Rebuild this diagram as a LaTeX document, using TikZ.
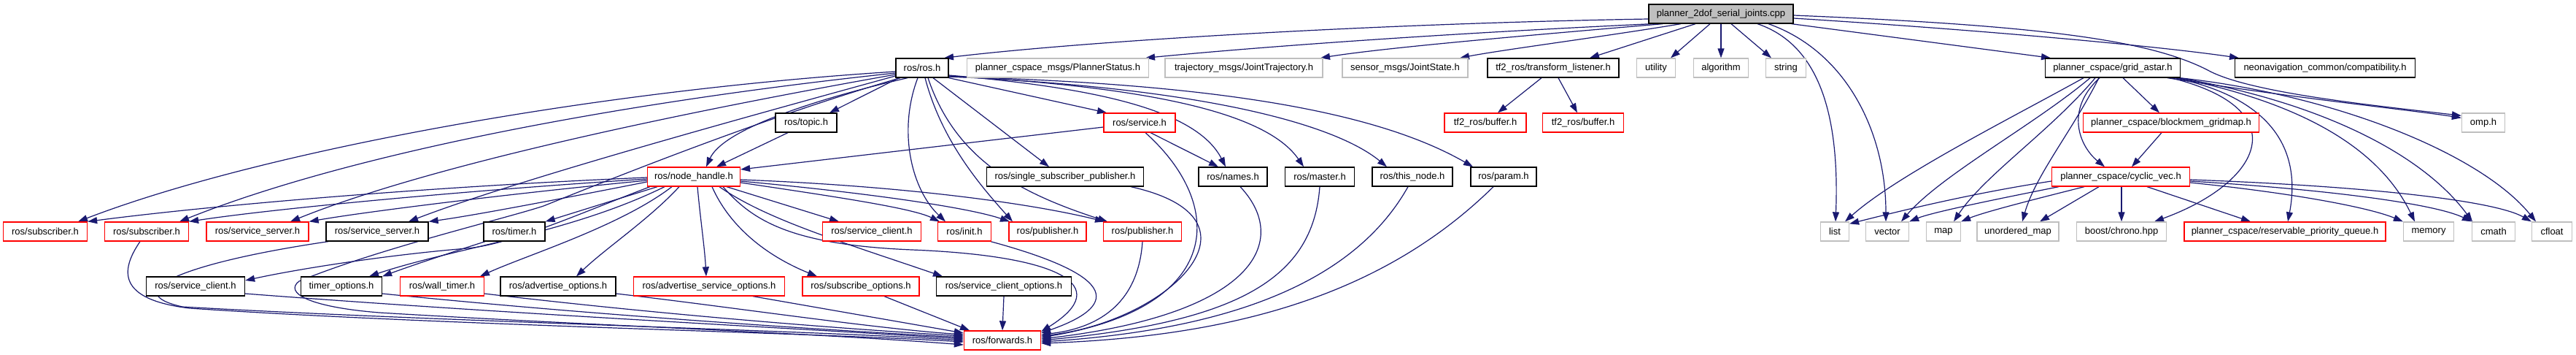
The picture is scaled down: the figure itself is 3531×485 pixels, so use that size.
\documentclass[tikz,border=0pt]{standalone}
\usepackage{fontspec}
\setmainfont{Liberation Sans}
\usetikzlibrary{arrows.meta}
\pgfdeclarelayer{bglayer}
\pgfdeclarelayer{edgelayer}
\pgfsetlayers{bglayer,edgelayer,main}
\definecolor{edgec}{HTML}{191970}
\definecolor{greyc}{HTML}{BFBFBF}
\definecolor{redc}{HTML}{FF0000}
\begin{document}
\begin{tikzpicture}[x=1pt,y=-1pt,
 box/.style={draw, fill=white, rectangle, minimum height=26pt, inner sep=0pt, font=\fontsize{13}{15}\selectfont, line width=1.3pt},
 blk/.style={box, draw=black},
 rd/.style={box, draw=redc},
 gr/.style={box, draw=greyc},
 wd/.style={minimum width=#1pt},
 inc/.style={draw=edgec, line width=1.2pt, -{Triangle[length=13pt,width=9pt]}},
]
\begin{pgfonlayer}{bglayer}
\fill[white] (0,0) rectangle (3531,485);
\end{pgfonlayer}
\useasboundingbox (0,0) rectangle (3531,485);
% row 1
\node[blk,fill=greyc,wd=198] (root) at (2359,19) {planner\_2dof\_serial\_joints.cpp};
% row 2
\node[blk,wd=72] (ros) at (1264,93) {ros/ros.h};
\node[gr,wd=249] (pstat) at (1450,93) {planner\_cspace\_msgs/PlannerStatus.h};
\node[gr,wd=216] (jtraj) at (1705,93) {trajectory\_msgs/JointTrajectory.h};
\node[gr,wd=172] (jstate) at (1926,93) {sensor\_msgs/JointState.h};
\node[blk,wd=180] (tfl) at (2129,93) {tf2\_ros/transform\_listener.h};
\node[gr,wd=53] (util) at (2270,93) {utility};
\node[gr,wd=75] (algo) at (2359,93) {algorithm};
\node[gr,wd=55] (str) at (2448,93) {string};
\node[blk,wd=185] (gastar) at (2896,93) {planner\_cspace/grid\_astar.h};
\node[blk,wd=247] (neo) at (3187,93) {neonavigation\_common/compatibility.h};
% row 3
\node[blk,wd=84] (topic) at (1105,168) {ros/topic.h};
\node[rd,wd=98] (service) at (1562,168) {ros/service.h};
\node[rd,wd=112] (buf1) at (2036,168) {tf2\_ros/buffer.h};
\node[rd,wd=111] (buf2) at (2170,168) {tf2\_ros/buffer.h};
\node[rd,wd=241] (block) at (2976,168) {planner\_cspace/blockmem\_gridmap.h};
\node[gr,wd=59] (omp) at (3404,168) {omp.h};
% row 4
\node[rd,wd=127] (nh) at (951,242) {ros/node\_handle.h};
\node[blk,wd=215] (ssp) at (1460,242) {ros/single\_subscriber\_publisher.h};
\node[blk,wd=94] (names) at (1690,242) {ros/names.h};
\node[blk,wd=95] (master) at (1809,242) {ros/master.h};
\node[blk,wd=110] (thisnode) at (1936,242) {ros/this\_node.h};
\node[blk,wd=90] (param) at (2061,242) {ros/param.h};
\node[rd,wd=189] (cvec) at (2907,242) {planner\_cspace/cyclic\_vec.h};
% row 5
\node[rd,wd=115] (sub1) at (62,317) {ros/subscriber.h};
\node[rd,wd=115] (sub2) at (201,317) {ros/subscriber.h};
\node[rd,wd=140] (ss1) at (353,317) {ros/service\_server.h};
\node[blk,wd=140] (ss2) at (517,317) {ros/service\_server.h};
\node[blk,wd=84] (timer) at (705,317) {ros/timer.h};
\node[rd,wd=135] (sc1) at (1195,317) {ros/service\_client.h};
\node[rd,wd=73] (init) at (1322,317) {ros/init.h};
\node[rd,wd=106] (pub1) at (1436,317) {ros/publisher.h};
\node[rd,wd=107] (pub2) at (1566,317) {ros/publisher.h};
\node[gr,wd=39] (list) at (2515,317) {list};
\node[gr,wd=59] (vector) at (2587,317) {vector};
\node[gr,wd=47] (map) at (2664,317) {map};
\node[gr,wd=112] (umap) at (2766,317) {unordered\_map};
\node[gr,wd=123] (chrono) at (2908,317) {boost/chrono.hpp};
\node[rd,wd=276] (rpq) at (3132,317) {planner\_cspace/reservable\_priority\_queue.h};
\node[gr,wd=69] (memory) at (3329,317) {memory};
\node[gr,wd=59] (cmath) at (3418,317) {cmath};
\node[gr,wd=55] (cfloat) at (3498,317) {cfloat};
% row 6
\node[blk,wd=135] (sc2) at (268,392) {ros/service\_client.h};
\node[blk,wd=111] (topt) at (468,392) {timer\_options.h};
\node[rd,wd=115] (wt) at (606,392) {ros/wall\_timer.h};
\node[blk,wd=158] (aopt) at (765,392) {ros/advertise\_options.h};
\node[rd,wd=207] (asopt) at (972,392) {ros/advertise\_service\_options.h};
\node[rd,wd=160] (subopt) at (1180,392) {ros/subscribe\_options.h};
\node[blk,wd=185] (scopt) at (1376,392) {ros/service\_client\_options.h};
% row 7
\node[rd,wd=105] (fwd) at (1374,466) {ros/forwards.h};

\begin{pgfonlayer}{edgelayer}
% ---- edges from root
\draw[inc] ([yshift=-7pt]root.west) .. controls (1900,32) and (1500,55) .. ([xshift=30pt]ros.north);
\draw[inc] ([xshift=-95pt]root.south) .. controls (2000,45) and (1750,62) .. ([xshift=120pt]pstat.north);
\draw[inc] ([xshift=-80pt]root.south) .. controls (2100,48) and (1900,65) .. ([xshift=105pt]jtraj.north);
\draw[inc] ([xshift=-55pt]root.south) .. controls (2200,50) and (2060,68) .. ([xshift=75pt]jstate.north);
\draw[inc] ([xshift=-35pt]root.south) -- ([xshift=50pt]tfl.north);
\draw[inc] ([xshift=-15pt]root.south) -- ([xshift=20pt]util.north);
\draw[inc] (root.south) -- (algo.north);
\draw[inc] ([xshift=14pt]root.south) -- ([xshift=-20pt]str.north);
\draw[inc] ([xshift=-3pt]root.south east) -- ([xshift=-85pt]gastar.north);
\draw[inc] ([yshift=-6pt]root.east) .. controls (2700,40) and (2950,62) .. ([xshift=-118pt]neo.north);
\draw[inc] ([yshift=-2pt]root.east) .. controls (2800,35) and (2950,55) .. (3030,98) .. controls (3090,128) and (3260,145) .. ([yshift=-4pt]omp.north west);
\draw[inc] ([xshift=50pt]root.south) .. controls (2490,60) and (2522,150) .. ([xshift=1pt]list.north);
\draw[inc] ([xshift=65pt]root.south) .. controls (2530,70) and (2585,180) .. ([xshift=-2pt]vector.north);

% ---- edges from ros.h
\draw[inc] ([yshift=-5pt]ros.west) .. controls (800,125) and (350,210) .. ([xshift=45pt]sub1.north);
\draw[inc] ([yshift=-7pt]ros.west) .. controls (850,140) and (480,210) .. ([xshift=45pt]sub2.north);
\draw[inc] ([yshift=-9pt]ros.west) .. controls (900,160) and (580,230) .. ([xshift=45pt]ss1.north);
\draw[inc] ([yshift=-11pt]ros.west) .. controls (950,180) and (700,250) .. ([xshift=43pt]ss2.north);
\draw[inc] ([xshift=-32pt]ros.south) -- ([xshift=32pt]topic.north);
\draw[inc] ([xshift=-20pt]ros.south) .. controls (1100,140) and (990,180) .. ([xshift=17pt]nh.north);
\draw[inc] (ros.south east) -- ([xshift=-45pt]service.north);
\draw[inc] ([xshift=15pt]ros.south) -- ([xshift=-22pt]ssp.north);
\draw[inc] ([yshift=-10pt]ros.east) .. controls (1500,120) and (1640,150) .. ([xshift=-10pt]names.north);
\draw[inc] ([yshift=-11pt]ros.east) .. controls (1600,120) and (1740,160) .. ([xshift=-22pt]master.north);
\draw[inc] ([yshift=-12pt]ros.east) .. controls (1650,120) and (1830,170) .. ([xshift=-35pt]thisnode.north);
\draw[inc] ([yshift=-12pt]ros.east) .. controls (1700,115) and (1900,160) .. ([xshift=-42pt]param.north);
\draw[inc] ([xshift=-6pt]ros.south) .. controls (1230,180) and (1250,260) .. ([xshift=-26pt]init.north);
\draw[inc] ([xshift=4pt]ros.south) .. controls (1290,190) and (1340,250) .. ([xshift=-48pt]pub1.north);
\draw[inc] ([xshift=8pt]ros.south) .. controls (1310,220) and (1400,265) .. ([xshift=-48pt]pub2.north);
\draw[inc] ([xshift=-30pt]ros.south) .. controls (1050,160) and (850,240) .. (745,282) .. controls (690,300) and (520,340) .. (410,385) .. controls (390,400) and (420,420) .. (520,428) .. controls (800,445) and (1100,455) .. ([yshift=-6pt]fwd.west);

% ---- other upper edges
\draw[inc] ([xshift=-25pt]topic.south) -- ([xshift=31pt]nh.north);
\draw[inc] ([yshift=-6pt]service.west) -- ([yshift=10pt]nh.east);
\draw[inc] ([xshift=15pt]service.south) -- ([xshift=-20pt]names.north);
\draw[inc] ([xshift=-16pt]tfl.south) -- ([xshift=17pt]buf1.north);
\draw[inc] ([xshift=7pt]tfl.south) -- ([xshift=-8pt]buf2.north);

% ---- edges from node_handle
\draw[inc] ([yshift=-1pt]nh.west) .. controls (600,255) and (300,280) .. (sub1.north east);
\draw[inc] ([yshift=-3pt]nh.west) .. controls (650,260) and (380,285) .. (sub2.north east);
\draw[inc] ([yshift=-5pt]nh.west) .. controls (700,265) and (500,290) .. (ss1.north east);
\draw[inc] ([yshift=-7pt]nh.west) .. controls (780,270) and (650,295) .. (ss2.north east);
\draw[inc] ([xshift=-50pt]nh.south) -- (timer.north east);
\draw[inc] ([xshift=45pt]nh.south) -- ([xshift=-45pt]sc1.north);
\draw[inc] ([yshift=-8pt]nh.east) .. controls (1150,270) and (1250,285) .. ([xshift=-34pt]init.north);
\draw[inc] ([yshift=-6pt]nh.east) .. controls (1200,265) and (1330,285) .. ([xshift=-52pt]pub1.north);
\draw[inc] ([yshift=-4pt]nh.east) .. controls (1250,255) and (1420,280) .. ([xshift=-52pt]pub2.north);
\draw[inc] ([xshift=-60pt]nh.south) .. controls (800,290) and (700,335) .. (640,340) .. controls (520,350) and (400,370) .. ([yshift=8pt]sc2.east);
\draw[inc] ([xshift=-40pt]nh.south) .. controls (780,320) and (620,340) .. ([xshift=38pt]topt.north);
\draw[inc] ([xshift=-30pt]nh.south) .. controls (850,310) and (720,350) .. ([xshift=52pt]wt.north);
\draw[inc] ([xshift=-20pt]nh.south) .. controls (890,300) and (830,340) .. ([xshift=25pt]aopt.north);
\draw[inc] ([xshift=5pt]nh.south) .. controls (960,300) and (966,340) .. ([xshift=-4pt]asopt.north);
\draw[inc] ([xshift=25pt]nh.south) .. controls (1000,310) and (1050,350) .. ([xshift=-60pt]subopt.north);
\draw[inc] ([xshift=35pt]nh.south) .. controls (1050,300) and (1150,330) .. ([xshift=-84pt]scopt.north);
\draw[inc] ([xshift=40pt]nh.south) .. controls (1030,300) and (1080,335) .. (1250,342) .. controls (1450,350) and (1530,390) .. ([yshift=12pt]fwd.east);
\draw[inc] ([xshift=-40pt]timer.south) .. controls (620,345) and (560,365) .. (topt.north east);

% ---- into forwards from the left
\draw[inc] ([xshift=-9pt]sub2.south) .. controls (165,370) and (160,410) .. (260,422) .. controls (600,445) and (1100,455) .. ([yshift=-2pt]fwd.west);
\draw[inc] ([xshift=-67pt]ss2.south) .. controls (250,360) and (160,400) .. (250,420) .. controls (600,440) and (1100,452) .. ([yshift=0pt]fwd.west);
\draw[inc] ([yshift=-10pt]sc2.east) .. controls (700,430) and (1100,450) .. ([yshift=2pt]fwd.west);
\draw[inc] ([yshift=-10pt]topt.east) .. controls (800,430) and (1100,450) .. ([yshift=4pt]fwd.west);
\draw[inc] ([yshift=-10pt]wt.east) .. controls (900,430) and (1150,450) .. ([yshift=6pt]fwd.west);
\draw[inc] ([yshift=-10pt]aopt.east) .. controls (1000,420) and (1200,450) .. ([yshift=8pt]fwd.west);
\draw[inc] ([xshift=60pt]asopt.south) -- ([yshift=10pt]fwd.west);
\draw[inc] ([xshift=32pt]subopt.south) -- ([xshift=-45pt]fwd.north);
\draw[inc] (scopt.south) -- (fwd.north);

% ---- into forwards from the right
\draw[inc] ([xshift=36pt]init.south) .. controls (1540,380) and (1530,420) .. ([yshift=10pt]fwd.east);
\draw[inc] (pub2.south) .. controls (1560,420) and (1500,450) .. ([yshift=8pt]fwd.east);
\draw[inc] ([xshift=90pt]ssp.south) .. controls (1750,300) and (1600,440) .. ([yshift=6pt]fwd.east);
\draw[inc] ([xshift=8pt]service.south) .. controls (1680,280) and (1680,420) .. ([yshift=4pt]fwd.east);
\draw[inc] ([xshift=10pt]names.south) .. controls (1770,330) and (1720,430) .. ([yshift=2pt]fwd.east);
\draw[inc] (master.south) .. controls (1800,380) and (1700,440) .. ([yshift=0pt]fwd.east);
\draw[inc] ([xshift=-6pt]thisnode.south) .. controls (1860,380) and (1700,450) .. ([yshift=-2pt]fwd.east);
\draw[inc] ([xshift=-14pt]param.south) .. controls (1900,400) and (1700,460) .. ([yshift=-4pt]fwd.east);

% ---- grid_astar
\draw[inc] ([xshift=14pt]gastar.south) -- ([xshift=-16pt]block.north);
\draw[inc] ([xshift=-18pt]gastar.south) .. controls (2830,150) and (2850,200) .. ([xshift=-22pt]cvec.north);
\draw[inc] ([xshift=-13pt]block.south) -- ([xshift=15pt]cvec.north);
\draw[inc] ([xshift=-40pt]gastar.south) .. controls (2760,160) and (2600,240) .. ([xshift=14pt]list.north);
\draw[inc] ([xshift=-31pt]gastar.south) .. controls (2790,170) and (2660,240) .. ([xshift=19pt]vector.north);
\draw[inc] ([xshift=-24pt]gastar.south) .. controls (2810,180) and (2720,240) .. ([xshift=14pt]map.north);
\draw[inc] ([xshift=-19pt]gastar.south) .. controls (2840,180) and (2790,240) .. ([xshift=6pt]umap.north);
\draw[inc] ([xshift=80pt]gastar.south) .. controls (3150,150) and (3100,250) .. ([xshift=45pt]chrono.north);
\draw[inc] ([xshift=85pt]gastar.south) .. controls (3140,140) and (3150,230) .. ([xshift=4pt]rpq.north);
\draw[inc] ([xshift=89pt]gastar.south) .. controls (3150,140) and (3260,200) .. ([xshift=-19pt]memory.north);
\draw[inc] ([xshift=91pt]gastar.south) .. controls (3180,140) and (3320,210) .. ([xshift=-29pt]cmath.north);
\draw[inc] ([xshift=92pt]gastar.south) .. controls (3200,130) and (3400,210) .. ([xshift=-22pt]cfloat.north);
\draw[inc] ([xshift=75pt]gastar.south) .. controls (3150,135) and (3300,150) .. ([yshift=-7pt]omp.north west);

% ---- cyclic_vec
\draw[inc] ([yshift=-6pt]cvec.west) .. controls (2700,265) and (2600,290) .. ([yshift=-3pt]list.north east);
\draw[inc] ([xshift=-85pt]cvec.south) .. controls (2750,270) and (2650,290) .. (vector.north east);
\draw[inc] ([xshift=-50pt]cvec.south) .. controls (2800,270) and (2720,290) .. (map.north east);
\draw[inc] ([xshift=-30pt]cvec.south) -- ([xshift=30pt]umap.north);
\draw[inc] ([xshift=1pt]cvec.south) -- (chrono.north);
\draw[inc] ([xshift=36pt]cvec.south) -- ([xshift=-47pt]rpq.north);
\draw[inc] ([yshift=-8pt]cvec.east) .. controls (3150,265) and (3250,285) .. (memory.north west);
\draw[inc] ([yshift=-6pt]cvec.east) .. controls (3200,260) and (3340,280) .. (cmath.north west);
\draw[inc] ([yshift=-4pt]cvec.east) .. controls (3250,255) and (3420,275) .. (cfloat.north west);
\end{pgfonlayer}
\end{tikzpicture}
\end{document}
